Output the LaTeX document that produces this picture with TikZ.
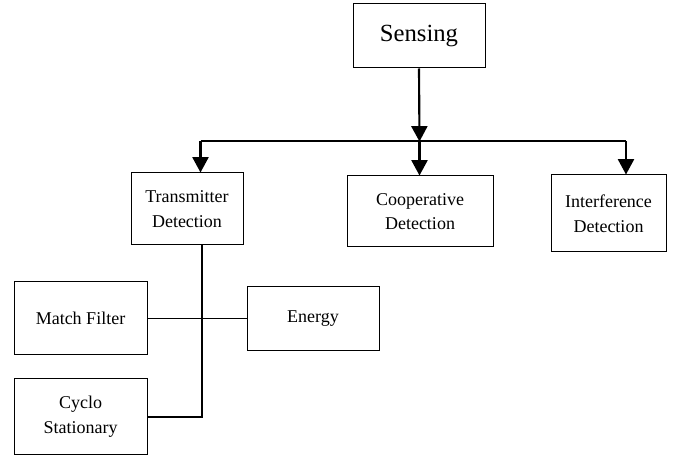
\documentclass[tikz,border=0pt]{standalone}
\usepackage{fontspec}
\setmainfont{Liberation Serif}
\usetikzlibrary{arrows.meta}
\begin{document}
\begin{tikzpicture}[x=0.75pt,y=-0.75pt,
 box/.style={draw, line width=0.75pt, inner sep=0pt, align=center, font=\fontsize{13.5}{18.5}\selectfont},
 arr/.style={line width=1.6pt, -{Triangle[length=11.5pt,width=12pt]}},
 bar/.style={line width=1.5pt},
 ln/.style={line width=1.3pt}]
\useasboundingbox (0,0) rectangle (683,456);
\node[box, minimum width=99pt, minimum height=48pt, font=\fontsize{18.5}{22}\selectfont] (sensing) at (419,36) {Sensing};
\node[box, minimum width=84pt, minimum height=54pt] (trans) at (187,209) {Transmitter\\Detection};
\node[box, minimum width=109.5pt, minimum height=53.25pt] (coop) at (420,211.5) {Cooperative\\Detection};
\node[box, minimum width=86.25pt, minimum height=57.75pt] (interf) at (608.5,213.5) {Interference\\Detection};
\node[box, minimum width=99.75pt, minimum height=54.75pt] (match) at (80.5,318.5) {Match Filter};
\node[box, minimum width=99pt, minimum height=48pt] (energy) at (313,319) {Energy};
\node[box, minimum width=99.75pt, minimum height=57pt] (cyclo) at (80.5,417) {Cyclo\\Stationary};
\coordinate (j) at (419.5,141.5);
\coordinate (hl) at (200.5,141.5);
\coordinate (hr) at (626,141.5);
\coordinate (v) at (202,0);
\draw[arr] (sensing.south) -- (j);
\draw[bar] (hl) -- (hr);
\draw[arr] (hl) -- (hl |- trans.north);
\draw[arr] (j) -- (j |- coop.north);
\draw[arr] (hr) -- (hr |- interf.north);
\draw[ln] (v |- trans.south) -- (v |- cyclo.east) -- (cyclo.east);
\draw[ln] (match.east) -- (match.east -| energy.west);
\end{tikzpicture}
\end{document}
